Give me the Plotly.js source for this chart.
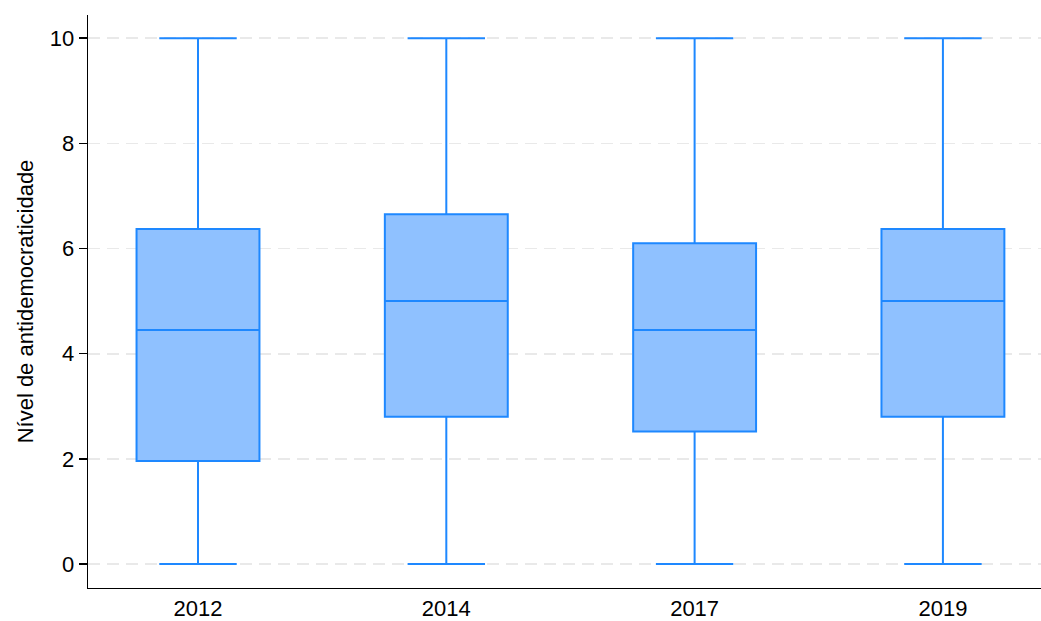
<!DOCTYPE html>
<html>
<head>
<meta charset="utf-8">
<script src="https://cdn.plot.ly/plotly-3.0.1.min.js"></script>
<style>html,body{margin:0;padding:0;background:#fff;}#chart{width:1041px;height:621px;}</style>
</head>
<body>
<div id="chart"></div>
<script>
const years = ["2012", "2014", "2017", "2019"];
const lowerFence = [0, 0, 0, 0];
const q1 = [1.96, 2.8, 2.52, 2.8];
const median = [4.45, 5.0, 4.45, 5.0];
const q3 = [6.37, 6.65, 6.1, 6.37];
const upperFence = [10, 10, 10, 10];
const yTicks = [0, 2, 4, 6, 8, 10];

const trace = {
  type: "box",
  x: years,
  lowerfence: lowerFence,
  q1: q1,
  median: median,
  q3: q3,
  upperfence: upperFence,
  boxpoints: false,
  width: 0.495,
  whiskerwidth: 0.63,
  fillcolor: "#8fc1ff",
  line: {color: "#1e88ff", width: 2},
  hoverinfo: "skip"
};

const layout = {
  width: 1041,
  height: 621,
  margin: {l: 88, r: 0, t: 15, b: 33},
  paper_bgcolor: "#ffffff",
  plot_bgcolor: "#ffffff",
  showlegend: false,
  font: {family: "Liberation Sans, Arial, sans-serif", color: "#000000", size: 22},
  xaxis: {
    type: "category",
    range: [-0.443, 3.395],
    showgrid: false,
    zeroline: false,
    showline: true,
    linecolor: "#000000",
    linewidth: 1.3,
    ticks: "",
    tickfont: {size: 22, color: "#000000"},
    fixedrange: true
  },
  yaxis: {
    range: [-0.455, 10.44],
    tickvals: yTicks,
    ticktext: yTicks.map(String),
    showgrid: true,
    gridcolor: "#e9e9e9",
    griddash: "12px,7px",
    gridwidth: 1.6,
    zeroline: false,
    showline: true,
    linecolor: "#000000",
    linewidth: 1.3,
    ticks: "outside",
    ticklen: 8,
    tickcolor: "#000000",
    tickwidth: 1.3,
    tickfont: {size: 22, color: "#000000"},
    title: {text: "Nível de antidemocraticidade", font: {size: 22, color: "#000000"}, standoff: 10},
    fixedrange: true
  }
};

Plotly.newPlot("chart", [trace], layout, {displayModeBar: false, staticPlot: true});
</script>
</body>
</html>
